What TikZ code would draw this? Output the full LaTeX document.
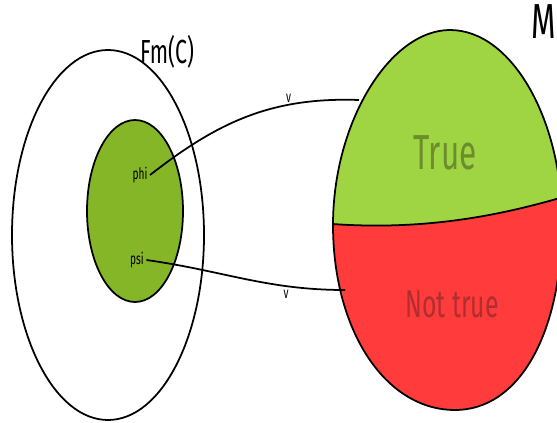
\documentclass[tikz,border=0pt]{standalone}
\usepackage{fontspec}
\setmainfont{Fira Sans}[FakeStretch=0.64]
\usepackage{xcolor}

\definecolor{setgreen}{HTML}{84B628}
\definecolor{truegreen}{HTML}{9FD443}
\definecolor{falsered}{HTML}{FF3B3B}
\definecolor{truetext}{HTML}{6D8C2E}
\definecolor{falsetext}{HTML}{B02E30}

\begin{document}
\begin{tikzpicture}[x=0.02cm, y=-0.02cm, line width=1pt]
	\useasboundingbox (0,0) rectangle (557,422);
	\clip (0,0) rectangle (557,422);

	% Fm(C) and the sentences in it
	\draw[fill=white] (108,235) ellipse [x radius=96, y radius=185];
	\node at (167,52) {\fontsize{19}{21}\selectfont Fm(C)};
	\draw[fill=setgreen] (135,211) ellipse [x radius=48, y radius=91];
	\node[font=\fontsize{9}{10}\selectfont, inner sep=1pt] (phi) at (140,175) {phi};
	\node[font=\fontsize{9}{10}\selectfont, inner sep=1pt] (psi) at (137,260) {psi};

	% the model M, split into true and not true
	\def\egg{(450,30) .. controls (512,30) and (562,120) .. (562,222)
		.. controls (562,332) and (520,410) .. (455,410)
		.. controls (385,410) and (333,330) .. (333,225)
		.. controls (333,122) and (390,30) .. (450,30) -- cycle}
	\begin{scope}
		\clip \egg;
		\fill[truegreen] (320,0) rectangle (570,240);
		\fill[falsered] (320,223) .. controls (420,232) and (500,216) .. (570,195)
			-- (570,422) -- (320,422) -- cycle;
		\draw (320,223) .. controls (420,232) and (500,216) .. (570,195);
	\end{scope}
	\draw \egg;
	\node[text=truetext] at (445,153) {\fontsize{28}{30}\selectfont True};
	\node[text=falsetext] at (452,304) {\fontsize{22}{24}\selectfont Not true};
	\node at (544,22) {\fontsize{28}{30}\selectfont M};

	% valuation arrows
	\coordinate (mtrue) at (359,100);
	\coordinate (mfalse) at (345,290);
	\draw (phi.east) to[out=38, in=178] node[pos=0.7, above, inner sep=1pt, font=\fontsize{9}{10}\selectfont] {v} (mtrue);
	\draw (psi.east) to[out=-8, in=180] node[pos=0.72, below, inner sep=2pt, font=\fontsize{9}{10}\selectfont] {v} (mfalse);
\end{tikzpicture}
\end{document}
